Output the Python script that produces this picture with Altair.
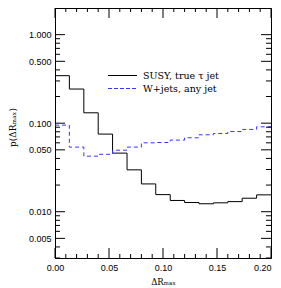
import altair as alt
import pandas as pd

# bin lower edges (15 bins of width 0.2/15) and upper end
bin_lo = [0.0000, 0.0133, 0.0267, 0.0400, 0.0533, 0.0667, 0.0800, 0.0933,
          0.1067, 0.1200, 0.1333, 0.1467, 0.1600, 0.1733, 0.1867]
x_end = 0.2

susy = [0.344, 0.243, 0.131, 0.0753, 0.0459, 0.0297, 0.0206, 0.0156,
        0.0134, 0.0127, 0.0123, 0.0126, 0.0130, 0.0142, 0.0155]
wjets = [0.095, 0.0537, 0.0424, 0.0445, 0.0495, 0.0537, 0.0600, 0.0605,
         0.0644, 0.0684, 0.0739, 0.0765, 0.0805, 0.0850, 0.0910]

series_names = ["SUSY, true τ jet", "W+jets, any jet"]

x_major = [0.0, 0.05, 0.10, 0.15, 0.20]
x_minor = [0.01, 0.02, 0.03, 0.04, 0.06, 0.07, 0.08, 0.09, 0.11, 0.12,
           0.13, 0.14, 0.16, 0.17, 0.18, 0.19]
y_major = [0.005, 0.01, 0.05, 0.1, 0.5, 1.0]
y_minor = [0.003, 0.004, 0.006, 0.007, 0.008, 0.009,
           0.02, 0.03, 0.04, 0.06, 0.07, 0.08, 0.09,
           0.2, 0.3, 0.4, 0.6, 0.7, 0.8, 0.9]

W, H = 216, 250
xscale = alt.Scale(domain=[0, 0.2], nice=False, zero=False)
yscale = alt.Scale(type="log", domain=[0.003, 2.0], nice=False)


def step_df(vals):
    return pd.DataFrame({"x": bin_lo + [x_end], "y": vals + [vals[-1]]})


x_axis = alt.Axis(values=x_major, format=".2f", ticks=False, grid=False,
                  labelFlush=False,
                  labelAlign={"expr": "datum.value >= 0.2 ? 'right' : 'center'"},
                  labelFont="Liberation Sans", labelFontSize=9, labelColor="black",
                  labelPadding=5, domainColor="black", domainWidth=1,
                  title="ΔRₘₐₓ", titleFont="DejaVu Serif", titleFontSize=8.5,
                  titleFontWeight="normal", titleColor="black",
                  titleX=W / 2, titleY=23, titleBaseline="middle")
y_axis = alt.Axis(values=y_major, format=".3f", ticks=False, grid=False,
                  labelFlush=False,
                  labelFont="Liberation Sans", labelFontSize=9, labelColor="black",
                  labelPadding=4, domainColor="black", domainWidth=1,
                  title="p(ΔRₘₐₓ)", titleFont="DejaVu Serif", titleFontSize=9,
                  titleFontWeight="normal", titleColor="black",
                  titleX=-42.5, titleY=H / 2 - 6, titleBaseline="middle", titleAngle=-90)

susy_line = alt.Chart(step_df(susy)).mark_line(
    interpolate="step-after", color="black", strokeWidth=1
).encode(x=alt.X("x:Q", scale=xscale, axis=x_axis),
         y=alt.Y("y:Q", scale=yscale, axis=y_axis))

w_line = alt.Chart(step_df(wjets)).mark_line(
    interpolate="step-after", color="#3535ff", strokeWidth=1, strokeDash=[4, 3]
).encode(x=alt.X("x:Q", scale=xscale, axis=x_axis),
         y=alt.Y("y:Q", scale=yscale, axis=y_axis))


def xticks(vals, length):
    df = pd.DataFrame({"x": vals})
    base = alt.Chart(df).mark_rule(color="black", strokeWidth=1)
    bottom = base.encode(x=alt.X("x:Q", scale=xscale, axis=x_axis),
                         y=alt.value(H), y2=alt.value(H - length))
    top = base.encode(x=alt.X("x:Q", scale=xscale, axis=x_axis),
                      y=alt.value(0), y2=alt.value(length))
    return [bottom, top]


def yticks(vals, length):
    df = pd.DataFrame({"y": vals})
    base = alt.Chart(df).mark_rule(color="black", strokeWidth=1)
    left = base.encode(y=alt.Y("y:Q", scale=yscale, axis=y_axis),
                       x=alt.value(0), x2=alt.value(length))
    right = base.encode(y=alt.Y("y:Q", scale=yscale, axis=y_axis),
                        x=alt.value(W), x2=alt.value(W - length))
    return [left, right]


tick_layers = (xticks(x_major, 10) + xticks(x_minor, 4)
               + yticks(y_major, 10) + yticks(y_minor, 5))

leg_df = pd.DataFrame({"name": series_names})
leg_susy_line = alt.Chart(leg_df).mark_rule(color="black", strokeWidth=1).encode(
    x=alt.value(53), x2=alt.value(82), y=alt.value(67.5))
leg_w_line = alt.Chart(leg_df).mark_rule(color="#3535ff", strokeWidth=1,
                                         strokeDash=[4, 2]).encode(
    x=alt.value(53), x2=alt.value(82), y=alt.value(80.5))
leg_susy_text = alt.Chart(pd.DataFrame({"name": [series_names[0]]})).mark_text(
    align="left", baseline="middle", font="DejaVu Serif", fontSize=9.5, color="black"
).encode(x=alt.value(88), y=alt.value(67.5), text="name:N")
leg_w_text = alt.Chart(pd.DataFrame({"name": [series_names[1]]})).mark_text(
    align="left", baseline="middle", font="DejaVu Serif", fontSize=9.5, color="black"
).encode(x=alt.value(88), y=alt.value(80.5), text="name:N")

chart = alt.layer(
    susy_line, w_line, *tick_layers,
    leg_susy_line, leg_w_line, leg_susy_text, leg_w_text
).properties(
    width=W, height=H,
    autosize=alt.AutoSizeParams(type="none"),
    padding={"left": 47, "top": 0, "right": 2, "bottom": 28},
    background="white",
).configure_view(stroke="black", strokeWidth=1)

chart.save("out.html", embed_options={"renderer": "svg", "actions": False})
